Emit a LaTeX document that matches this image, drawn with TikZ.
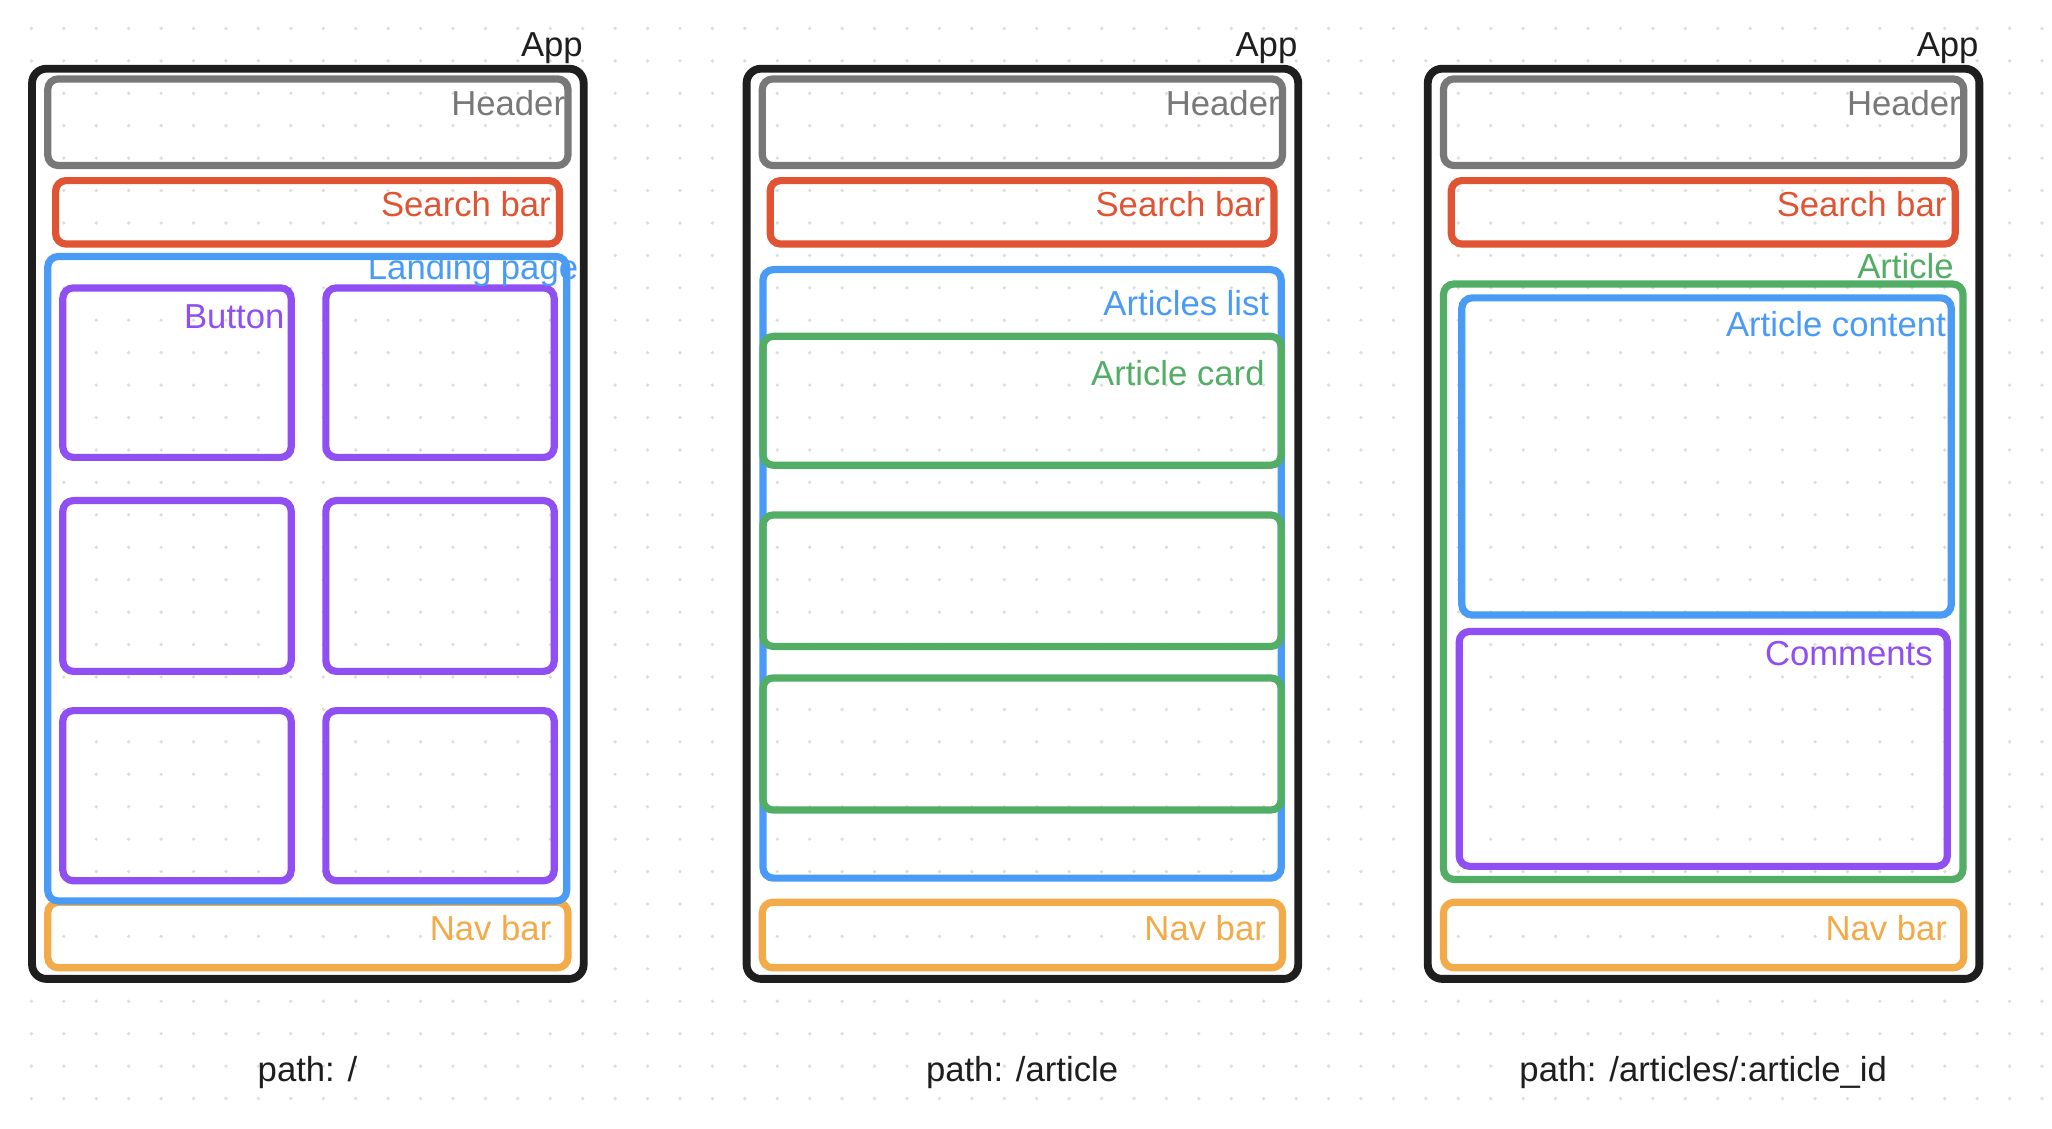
\documentclass[tikz,border=0pt]{standalone}
\usepackage{fontspec}
\setmainfont{Liberation Sans}

\definecolor{ink}{HTML}{1E1E1E}
\definecolor{greyline}{HTML}{787878}
\definecolor{redline}{HTML}{E05433}
\definecolor{blueline}{HTML}{4A9BF5}
\definecolor{purpleline}{HTML}{8F4FF3}
\definecolor{greenline}{HTML}{52AD65}
\definecolor{orangeline}{HTML}{F2AB48}
\definecolor{griddot}{HTML}{DDDDDD}

% Common outer frame of one screen: app, header, search bar, nav bar, route caption
\newcommand{\screenframe}[3]{%
  \begin{scope}[xshift=#1pt]
    \draw[appframe] (24.5,52.5) rectangle (446,748);
    \draw[frame, draw=greyline] (36.5,60.3) rectangle (434,126.5);
    \draw[frame, draw=redline] (42.5,138) rectangle (427.5,186.5);
    \draw[frame, draw=orangeline] (36.5,689.5) rectangle (434,739.5);
    \node[lbl, text=ink] (#3app) at (445.5,43.3) {App};
    \node[lbl, text=greyline] (#3header) at (432,88) {Header};
    \node[lbl, text=redline] (#3search) at (421,165.6) {Search bar};
    \node[lbl, text=orangeline] (#3nav) at (421.5,718.5) {Nav bar};
    \node[lbl, anchor=base, text=ink] (#3path) at (235,826.5) {#2};
  \end{scope}}

\begin{document}
\begin{tikzpicture}[x=1pt, y=-1pt,
  frame/.style={line width=5.5pt, rounded corners=8pt},
  appframe/.style={line width=6pt, rounded corners=11pt, draw=ink},
  lbl/.style={anchor=base east, inner sep=0pt, font=\fontsize{26.5}{30}\selectfont}]

\fill[white] (0,0) rectangle (1568,862);
\useasboundingbox (0,0) rectangle (1568,862);

% dotted canvas
\foreach \i in {0,...,63}
  \foreach \j in {0,...,34}
    \fill[griddot] (24+24.78*\i, 21.7+24.78*\j) circle (1.4pt);

% route "/"
\screenframe{0}{path: /}{a}
\draw[frame, draw=blueline] (36.5,196) rectangle (433,688.5);
\foreach \x/\X in {48/222.5, 249/423.5}
  \foreach \y/\Y in {220/349.5, 382.5/513, 543/673}
    \draw[frame, draw=purpleline] (\x,\y) rectangle (\X,\Y);
\node[lbl, text=blueline] (landing) at (442,213.5) {Landing page};
\node[lbl, text=purpleline] (button) at (217.5,250.8) {Button};

% route "/article"
\screenframe{546}{path: /article}{b}
\draw[frame, draw=blueline] (583,206) rectangle (979,671);
\foreach \y/\Y in {257/355.5, 393.5/494, 518/619}
  \draw[frame, draw=greenline] (583,\y) rectangle (979,\Y);
\node[lbl, text=blueline] (artlist) at (970,240.7) {Articles list};
\node[lbl, text=greenline] (artcard) at (966.5,294.2) {Article card};

% route "/articles/:article_id"
\screenframe{1066.5}{path: /articles/:article\_id}{c}
\draw[frame, draw=greenline] (1103,217) rectangle (1500,672);
\draw[frame, draw=blueline] (1117,227.6) rectangle (1491,470);
\draw[frame, draw=purpleline] (1115,482.5) rectangle (1488,662);
\node[lbl, text=greenline] (article) at (1493,212.7) {Article};
\node[lbl, text=blueline] (artcontent) at (1487,257.3) {Article content};
\node[lbl, text=purpleline] (comments) at (1477,508.4) {Comments};

\end{tikzpicture}
\end{document}
